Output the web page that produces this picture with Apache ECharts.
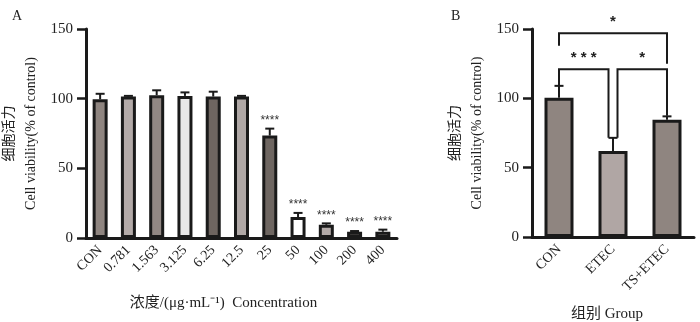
<!DOCTYPE html>
<html>
<head>
<meta charset="utf-8">
<script src="https://cdn.jsdelivr.net/npm/echarts@6/dist/echarts.min.js"></script>
<style>
  html, body { margin: 0; padding: 0; background: #fff; }
  #chart { width: 700px; height: 322px; }
</style>
</head>
<body>
<div id="chart"></div>
<script>
// panel A: concentration series
const concLabels = ['CON', '0.781', '1.563', '3.125', '6.25', '12.5', '25', '50', '100', '200', '400'];
const concValues = [99.5, 101.5, 102.5, 102, 101.5, 101.5, 73.5, 15, 9.5, 4.5, 4.5];
const concErrors = [4, 0.5, 3.5, 2.5, 3.5, 0.5, 5, 3, 1, 0.5, 1.5];
const concSig = ['', '', '', '', '', '', '****', '****', '****', '****', '****'];
const concColors = ['#8f8580', '#b3aaa8', '#918783', '#e8e7e7', '#6e6560', '#b0a8a6',
                    '#6e6661', '#ffffff', '#b3aaa8', '#8f8580', '#b0a8a6'];

// panel B: group series
const groupLabels = ['CON', 'ETEC', 'TS+ETEC'];
const groupValues = [100.5, 62, 84.5];
const groupErrors = [8.5, 9.5, 2.5];
const groupColors = ['#8f8580', '#b0a6a4', '#8f8580'];

// significance brackets in panel B
const bracketFrom = [0, 0, 1];
const bracketTo = [2, 1, 2];
const bracketLevel = [147, 121, 121];
const bracketLeftEnd = [138, 109, 71.5];
const bracketRightEnd = [125, 71.5, 87.5];
const bracketLabel = ['*', '* * *', '*'];

const yTicks = [0, 50, 100, 150];

const serif = "'Liberation Serif', 'Noto Sans CJK SC', serif";
const ink = '#1a1a1a';

let myChart = echarts.init(document.getElementById('chart'));

function errorBars(sig) {
    return function (params, api) {
        let i = api.value(0), v = api.value(1), e = api.value(2);
        let base = api.coord([i, v]);
        let top = api.coord([i, v + e]);
        let cap = 4.5;
        let children = [
            { type: 'line', shape: { x1: base[0], y1: base[1], x2: top[0], y2: top[1] },
              style: { stroke: ink, lineWidth: 2 } },
            { type: 'line', shape: { x1: top[0] - cap, y1: top[1], x2: top[0] + cap, y2: top[1] },
              style: { stroke: ink, lineWidth: 2 } }
        ];
        if (sig && sig[params.dataIndex]) {
            children.push({
                type: 'text',
                style: { x: top[0], y: top[1] - 2, text: sig[params.dataIndex],
                         align: 'center', verticalAlign: 'bottom',
                         font: '12px "Liberation Sans", sans-serif', fill: '#333' }
            });
        }
        return { type: 'group', children: children };
    };
}

function bracketItem(params, api) {
    let k = params.dataIndex;
    let a = bracketFrom[k], b = bracketTo[k], lv = bracketLevel[k];
    let shiftL = 0, shiftR = 0;
    // nudge legs apart where two brackets meet on the same bar
    for (let j = 0; j < bracketFrom.length; j++) {
        if (j === k || bracketLevel[j] !== lv) continue;
        if (bracketTo[j] === a) shiftL = 4.5;
        if (bracketFrom[j] === b) shiftR = -4.5;
    }
    let pL = api.coord([a, lv]), pR = api.coord([b, lv]);
    let eL = api.coord([a, bracketLeftEnd[k]]), eR = api.coord([b, bracketRightEnd[k]]);
    let xL = pL[0] + shiftL, xR = pR[0] + shiftR;
    let st = { stroke: ink, lineWidth: 2, fill: null };
    return {
        type: 'group',
        children: [
            { type: 'polyline', shape: { points: [[xL, eL[1]], [xL, pL[1]], [xR, pR[1]], [xR, eR[1]]] }, style: st },
            { type: 'text', style: { x: (xL + xR) / 2, y: pL[1] - 4, text: bracketLabel[k],
              align: 'center', verticalAlign: 'bottom',
              font: 'bold 15px "Liberation Sans", sans-serif', fill: '#222' } }
        ]
    };
}

function xAxisBase(grid, labels, name, gap, namePad) {
    return {
        type: 'category', gridIndex: grid, data: labels,
        name: name, nameLocation: 'middle', nameGap: gap,
        nameTextStyle: { fontFamily: serif, fontSize: 15, color: '#222', padding: namePad },
        axisLine: { lineStyle: { color: ink, width: 3 } },
        axisTick: { alignWithLabel: true, length: 8, lineStyle: { color: ink, width: 2.5 } },
        axisLabel: { rotate: 45, margin: 10, fontFamily: serif, fontSize: 14, color: '#222' }
    };
}

function yAxisBase(grid) {
    return {
        type: 'value', gridIndex: grid, min: yTicks[0], max: yTicks[yTicks.length - 1], interval: 50,
        name: '细胞活力\nCell viability(% of control)', nameLocation: 'middle', nameGap: 44,
        nameTextStyle: { fontFamily: serif, fontSize: 14, color: '#222', lineHeight: 22 },
        axisLine: { show: true, lineStyle: { color: ink, width: 3 } },
        axisTick: { show: true, length: 9, lineStyle: { color: ink, width: 2.5 } },
        axisLabel: { fontFamily: serif, fontSize: 15, color: '#222', margin: 13 },
        splitLine: { show: false }
    };
}

myChart.setOption({
    animation: false,
    title: [
        { text: 'A', left: 7, top: 4, textStyle: { fontFamily: serif, fontSize: 14, fontWeight: 'normal', color: '#222' } },
        { text: 'B', left: 446, top: 4, textStyle: { fontFamily: serif, fontSize: 14, fontWeight: 'normal', color: '#222' } }
    ],
    grid: [
        { left: 86, top: 29, width: 311, bottom: 84, outerBoundsMode: 'none' },
        { left: 532, top: 29, width: 162, bottom: 85, outerBoundsMode: 'none' }
    ],
    xAxis: [
        xAxisBase(0, concLabels, '浓度/(μg·mL⁻¹)  Concentration', 58, [0, 36, 0, 0]),
        xAxisBase(1, groupLabels, '组别 Group', 70, [0, 12, 0, 0])
    ],
    yAxis: [yAxisBase(0), yAxisBase(1)],
    series: [
        {
            type: 'bar', xAxisIndex: 0, yAxisIndex: 0, barWidth: 15,
            data: concValues.map((v, i) => ({ value: v, itemStyle: { color: concColors[i] } })),
            itemStyle: { borderColor: ink, borderWidth: 3 }
        },
        {
            type: 'custom', xAxisIndex: 0, yAxisIndex: 0, z: 3,
            renderItem: errorBars(concSig),
            data: concValues.map((v, i) => [i, v, concErrors[i]])
        },
        {
            type: 'bar', xAxisIndex: 1, yAxisIndex: 1, barWidth: 29,
            data: groupValues.map((v, i) => ({ value: v, itemStyle: { color: groupColors[i] } })),
            itemStyle: { borderColor: ink, borderWidth: 3 }
        },
        {
            type: 'custom', xAxisIndex: 1, yAxisIndex: 1, z: 3,
            renderItem: errorBars(null),
            data: groupValues.map((v, i) => [i, v, groupErrors[i]])
        },
        {
            type: 'custom', xAxisIndex: 1, yAxisIndex: 1, z: 4, clip: false,
            renderItem: bracketItem,
            data: bracketFrom.map((a, k) => [a, bracketLevel[k]])
        }
    ]
});
window.addEventListener('resize', myChart.resize);
</script>
</body>
</html>
